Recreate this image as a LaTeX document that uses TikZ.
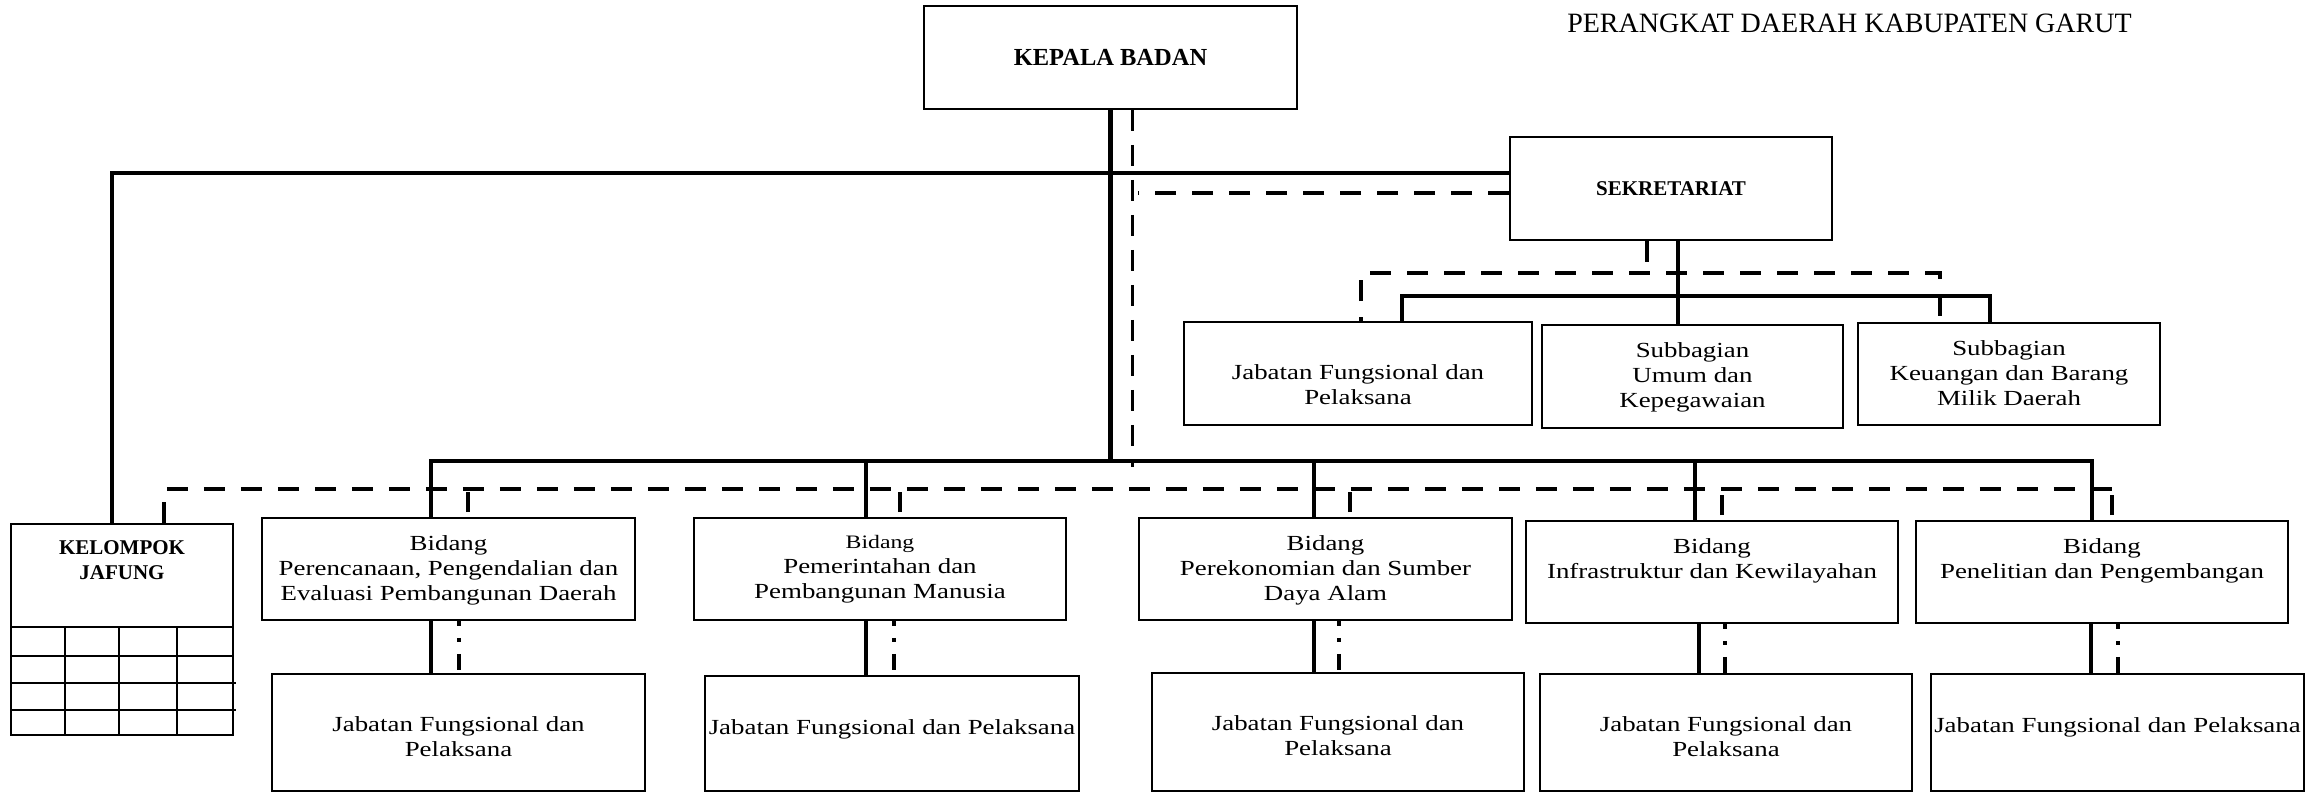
\documentclass[tikz,border=0pt]{standalone}
\usepackage{fontspec}
\newfontfamily\headserif{Liberation Serif}
% widened serif for the body text
\newfontfamily\bodyserif{Liberation Serif}[FakeStretch=1.25]

\begin{document}
\begin{tikzpicture}[x=1pt,y=-1pt,
  box/.style={draw, line width=1.8pt, inner sep=0pt, minimum width=#1},
  lbl/.style={inner sep=0pt, align=center, font=\bodyserif\fontsize{21.5}{25}\selectfont},
  hdr/.style={inner sep=0pt, align=center, font=\headserif\bfseries\fontsize{#1}{25}\selectfont},
  main/.style={line width=4.5pt},
  dsh/.style={line width=4.5pt, dash pattern=on 21pt off 16pt},
  thindsh/.style={line width=3pt, dash pattern=on 21pt off 14pt},
  stemdsh/.style={line width=3.5pt, dash pattern=on 20pt off 9pt, dash phase=24pt},
  dotdsh/.style={line width=3.5pt, dash pattern=on 5pt off 12pt on 4pt off 12pt on 16pt off 10pt},
  gridline/.style={line width=1.8pt}]

\useasboundingbox (0,0) rectangle (2315,792);

% heading
\node[inner sep=0pt, font=\headserif\fontsize{28}{30}\selectfont] (title) at (1849.5,23) {PERANGKAT DAERAH KABUPATEN GARUT};

% top level
\node[box=373pt, minimum height=103pt, hdr=24.5] (kepala) at (1110.5,57.5) {KEPALA BADAN};
\node[box=322pt, minimum height=103pt, hdr=21] (sekr) at (1671,188.5) {SEKRETARIAT};

% secretariat units
\node[box=348pt, minimum height=103pt] (jfs) at (1358,373.5) {};
\node[box=301pt, minimum height=103pt] (umum) at (1692.5,376.5) {};
\node[box=302pt, minimum height=102pt] (keu) at (2009,374) {};
\node[lbl, anchor=north] (jfst) at ([yshift=-43pt]jfs.north) {Jabatan Fungsional dan\\Pelaksana};
\node[lbl, anchor=north] (umumt) at ([yshift=-18pt]umum.north) {Subbagian\\Umum dan\\Kepegawaian};
\node[lbl, anchor=north] (keut) at ([yshift=-18pt]keu.north) {Subbagian\\Keuangan dan Barang\\Milik Daerah};

% kelompok jabatan fungsional with its table
\node[box=222pt, minimum height=211pt] (kj) at (122,629.5) {};
\node[hdr=21, anchor=north] (kjt) at ([yshift=-17pt]kj.north) {KELOMPOK\\JAFUNG};
\draw[gridline] (11,627) -- (233,627);
\draw[gridline] (11,656) -- (233,656);
\draw[gridline] (11,683) -- (236,683);
\draw[gridline] (11,710) -- (236,710);
\draw[gridline] (65,627) -- (65,735);
\draw[gridline] (119,627) -- (119,735);
\draw[gridline] (177,627) -- (177,735);

% bidang
\node[box=373pt, minimum height=102pt] (b1) at (448.5,569) {};
\node[box=372pt, minimum height=102pt] (b2) at (880,569) {};
\node[box=373pt, minimum height=102pt] (b3) at (1325.5,569) {};
\node[box=372pt, minimum height=102pt] (b4) at (1712,572) {};
\node[box=372pt, minimum height=102pt] (b5) at (2102,572) {};
\node[lbl, anchor=north] (b1t) at ([yshift=-18pt]b1.north) {Bidang\\Perencanaan, Pengendalian dan\\Evaluasi Pembangunan Daerah};
\node[lbl, anchor=north] (b2t) at ([yshift=-18pt]b2.north) {{\fontsize{19}{25}\selectfont Bidang}\\Pemerintahan dan\\Pembangunan Manusia};
\node[lbl, anchor=north] (b3t) at ([yshift=-18pt]b3.north) {Bidang\\Perekonomian dan Sumber\\Daya Alam};
\node[lbl, anchor=north] (b4t) at ([yshift=-18pt]b4.north) {Bidang\\Infrastruktur dan Kewilayahan};
\node[lbl, anchor=north] (b5t) at ([yshift=-18pt]b5.north) {Bidang\\Penelitian dan Pengembangan};

% jabatan fungsional under each bidang
\node[box=373pt, minimum height=117pt] (j1) at (458.5,732.5) {};
\node[box=374pt, minimum height=115pt] (j2) at (892,733.5) {};
\node[box=372pt, minimum height=118pt] (j3) at (1338,732) {};
\node[box=372pt, minimum height=117pt] (j4) at (1726,732.5) {};
\node[box=373pt, minimum height=117pt] (j5) at (2117.5,732.5) {};
\node[lbl, anchor=north] (j1t) at ([yshift=-43pt]j1.north) {Jabatan Fungsional dan\\Pelaksana};
\node[lbl, anchor=north] (j2t) at ([yshift=-44pt]j2.north) {Jabatan Fungsional dan Pelaksana};
\node[lbl, anchor=north] (j3t) at ([yshift=-43pt]j3.north) {Jabatan Fungsional dan\\Pelaksana};
\node[lbl, anchor=north] (j4t) at ([yshift=-43pt]j4.north) {Jabatan Fungsional dan\\Pelaksana};
\node[lbl, anchor=north] (j5t) at ([yshift=-44pt]j5.north) {Jabatan Fungsional dan Pelaksana};

% bus junctions
\coordinate (spine) at (1110.5,462);
\coordinate (dashR) at (2112,489);

% command lines
\draw[main] (kepala.south) -- (spine);
\draw[main] ([xshift=-10pt]kj.north) |- ([yshift=15.5pt]sekr.west);
\draw[main] ([xshift=-17.5pt]b1.north) -- ++(0,-56) -| ([xshift=-10pt]b5.north);
\draw[main] ([xshift=-14pt]b2.north) -- ++(0,-56);
\draw[main] ([xshift=-11.5pt]b3.north) -- ++(0,-56);
\draw[main] ([xshift=-17pt]b4.north) -- ++(0,-59);
\draw[main] ([xshift=7pt]sekr.south) -- ([xshift=-14.5pt]umum.north);
\draw[main] ([xshift=44pt]jfs.north) -- ++(0,-25) -| ([xshift=-19pt]keu.north);
\draw[main] ([xshift=-17.5pt]b1.south) -- ([xshift=-27.5pt]j1.north);
\draw[main] ([xshift=-14pt]b2.south) -- ([xshift=-26pt]j2.north);
\draw[main] ([xshift=-11.5pt]b3.south) -- ([xshift=-24pt]j3.north);
\draw[main] ([xshift=-13pt]b4.south) -- ([xshift=-27pt]j4.north);
\draw[main] ([xshift=-11pt]b5.south) -- ([xshift=-26.5pt]j5.north);

% coordination lines
\draw[thindsh] ([xshift=21.5pt]kepala.south) -- ++(0,357);
\draw[dsh] ([yshift=-4.5pt]sekr.west) -- ++(-371,0);
\draw[dsh] ([xshift=-24pt]sekr.south) -- ++(0,34);
\draw[dsh, dash phase=17pt] ([xshift=3pt]jfs.north) -- ++(0,-48) -| ([xshift=-69pt]keu.north);
\draw[dsh] ([xshift=42pt]kj.north) |- (dashR);
\draw[stemdsh] ([xshift=19.5pt]b1.north) -- ++(0,-29);
\draw[stemdsh] ([xshift=20pt]b2.north) -- ++(0,-29);
\draw[stemdsh] ([xshift=24.5pt]b3.north) -- ++(0,-29);
\draw[stemdsh] ([xshift=10pt]b4.north) -- ++(0,-32);
\draw[stemdsh] ([xshift=10pt]b5.north) -- ++(0,-32);
\draw[dotdsh] ([xshift=10.5pt]b1.south) -- ([xshift=0.5pt]j1.north);
\draw[dotdsh] ([xshift=14pt]b2.south) -- ([xshift=2pt]j2.north);
\draw[dotdsh] ([xshift=13.5pt]b3.south) -- ([xshift=1pt]j3.north);
\draw[dotdsh] ([xshift=13pt]b4.south) -- ([xshift=-1pt]j4.north);
\draw[dotdsh] ([xshift=16pt]b5.south) -- ([xshift=0.5pt]j5.north);
\end{tikzpicture}
\end{document}
